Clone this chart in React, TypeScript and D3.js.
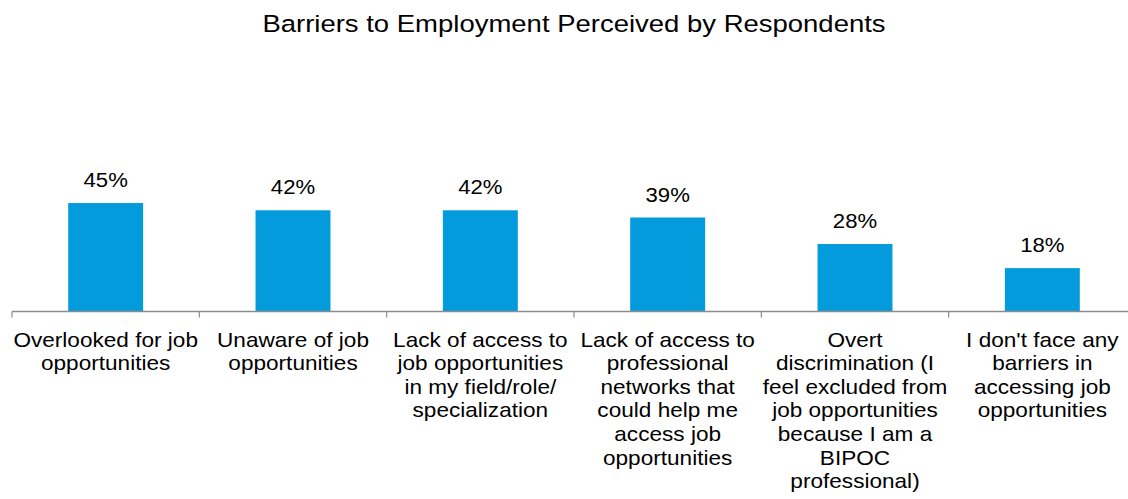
import React from "react";
import * as d3 from "d3";

const title = "Barriers to Employment Perceived by Respondents";
const categories: string[][] = [
  ["Overlooked for job", "opportunities"],
  ["Unaware of job", "opportunities"],
  ["Lack of access to", "job opportunities", "in my field/role/", "specialization"],
  ["Lack of access to", "professional", "networks that", "could help me", "access job", "opportunities"],
  ["Overt", "discrimination (I", "feel excluded from", "job opportunities", "because I am a", "BIPOC", "professional)"],
  ["I don't face any", "barriers in", "accessing job", "opportunities"],
];
const values = [45, 42, 42, 39, 28, 18];
const valueLabels = ["45%", "42%", "42%", "39%", "28%", "18%"];

const W = 1128;
const H = 499;
const FONT = "'Liberation Sans', Arial, Helvetica, sans-serif";
const SX = 1.13;

export default function App() {
  const ids = categories.map((_, i) => String(i));
  const x = d3.scaleBand<string>().domain(ids).range([12, 1136]).paddingInner(0.6).paddingOuter(0.3);
  const axisY = 311.5;
  const y = d3.scaleLinear().domain([0, 50]).range([axisY, axisY - 120.5]);
  const step = x.step();
  const bw = x.bandwidth();

  return (
    <div style={{ position: "absolute", left: 0, top: 0 }}>
      <svg width={W} height={H} style={{ display: "block", background: "#fff" }}>
        <g transform={`translate(${W / 2 + 10},32) scale(1.17,1)`}>
          <text x={0} y={0} textAnchor="middle" fontFamily={FONT} fontSize={23.5} fill="#000">
            {title}
          </text>
        </g>
        {values.map((v, i) => {
          const bx = x(String(i))!;
          return (
            <g key={i}>
              <rect x={bx} y={y(v)} width={bw} height={axisY - y(v)} fill="#039BDC" />
              <g transform={`translate(${bx + bw / 2},${y(v) - 16}) scale(${SX},1)`}>
                <text textAnchor="middle" fontFamily={FONT} fontSize={19.6} fill="#000">
                  {valueLabels[i]}
                </text>
              </g>
            </g>
          );
        })}
        <line x1={12} x2={1136} y1={axisY} y2={axisY} stroke="#8c8c8c" strokeWidth={1.5} />
        {d3.range(categories.length + 1).map((i) => (
          <line key={i} x1={12 + i * step} x2={12 + i * step} y1={axisY} y2={axisY + 6} stroke="#8c8c8c" strokeWidth={1.2} />
        ))}
        {categories.map((lines, i) => {
          const cx = x(String(i))! + bw / 2;
          return (
            <g key={i} transform={`translate(${cx},346.7) scale(${SX},1)`}>
              <text textAnchor="middle" fontFamily={FONT} fontSize={20} fill="#000">
                {lines.map((l, j) => (
                  <tspan key={j} x={0} y={j * 23.6}>
                    {l}
                  </tspan>
                ))}
              </text>
            </g>
          );
        })}
      </svg>
    </div>
  );
}
